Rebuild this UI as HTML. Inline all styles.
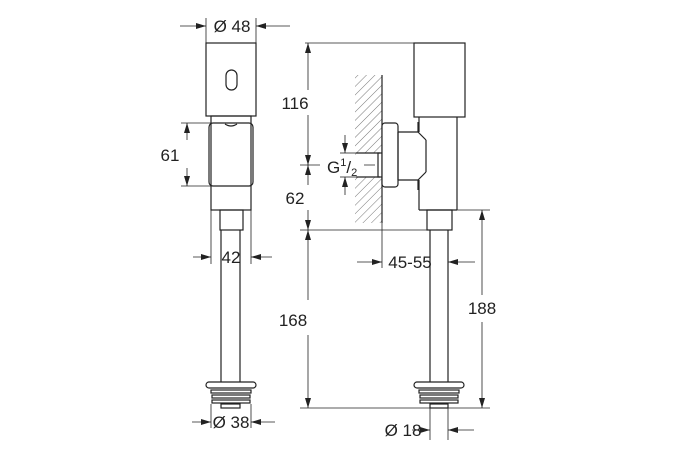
<!DOCTYPE html>
<html><head><style>body{margin:0;background:#fff}svg{display:block}text{font-family:"Liberation Sans",sans-serif;font-size:17px;fill:#222}</style></head>
<body>
<svg width="675" height="450" viewBox="0 0 675 450" xmlns="http://www.w3.org/2000/svg">
<defs>
<marker id="a" viewBox="0 0 10 6" refX="10" refY="3" markerWidth="10" markerHeight="6" orient="auto-start-reverse" markerUnits="userSpaceOnUse"><path d="M0,0L10,3L0,6z" fill="#222"/></marker>
<pattern id="h" width="6" height="6" patternUnits="userSpaceOnUse" patternTransform="rotate(45)"><line x1="0" y1="0" x2="0" y2="6" stroke="#555" stroke-width="0.8"/></pattern>
</defs>
<g stroke="#222" stroke-width="1.2" fill="none">
<rect x="206" y="43" width="50" height="73" fill="#fff"/>
<rect x="226" y="70" width="11" height="20" rx="5.5"/>
<rect x="211" y="116" width="40" height="94"/>
<rect x="209" y="123" width="44" height="63" rx="4"/>
<path d="M225,124 Q231,128 237,124" />
<rect x="220" y="210" width="23" height="20"/>
<line x1="221" y1="230" x2="221" y2="382"/><line x1="240" y1="230" x2="240" y2="382"/>
<rect x="206" y="382" width="50" height="6" rx="3"/>
<rect x="211" y="390" width="40" height="3"/><rect x="212" y="395" width="38" height="3"/><rect x="212" y="400" width="38" height="3"/>
<rect x="221" y="404" width="19" height="4"/>
<g stroke-width="0.8">
<line x1="206" y1="18" x2="206" y2="43"/><line x1="256" y1="18" x2="256" y2="43"/>
<line x1="180" y1="26" x2="206" y2="26" marker-end="url(#a)"/><line x1="290" y1="26" x2="256" y2="26" marker-end="url(#a)"/>
<line x1="181" y1="123" x2="250" y2="123"/><line x1="181" y1="186" x2="250" y2="186"/>
<line x1="187" y1="140" x2="187" y2="123" marker-end="url(#a)"/><line x1="187" y1="168" x2="187" y2="186" marker-end="url(#a)"/>
<line x1="211" y1="210" x2="211" y2="264"/><line x1="251" y1="210" x2="251" y2="264"/>
<line x1="193" y1="257" x2="211" y2="257" marker-end="url(#a)"/><line x1="272" y1="257" x2="251" y2="257" marker-end="url(#a)"/>
<line x1="211" y1="404" x2="211" y2="428"/><line x1="251" y1="404" x2="251" y2="428"/>
<line x1="192" y1="422" x2="211" y2="422" marker-end="url(#a)"/><line x1="275" y1="422" x2="251" y2="422" marker-end="url(#a)"/>
</g>
<rect x="355" y="75" width="27" height="148" fill="url(#h)" stroke="none"/>
<line x1="382" y1="75" x2="382" y2="223"/>
<rect x="356" y="153" width="26" height="24" fill="#fff" stroke="none"/>
<line x1="356" y1="153" x2="380" y2="153"/><line x1="356" y1="177" x2="380" y2="177"/><rect x="378" y="153" width="4" height="24"/>
<rect x="382" y="123" width="16" height="64" rx="3" fill="#fff"/>
<path d="M398,132 H418 V122 M398,180 H418 V190 M398,132 V180 M426,140 V172" />
<path d="M418,132 L426,140 M418,180 L426,172"/>
<rect x="414" y="43" width="51" height="74" fill="#fff"/>
<line x1="419" y1="117" x2="419" y2="132"/><line x1="419" y1="180" x2="419" y2="210"/>
<line x1="457" y1="117" x2="457" y2="210"/><line x1="419" y1="210" x2="457" y2="210"/>
<rect x="427" y="210" width="25" height="20"/>
<line x1="430" y1="230" x2="430" y2="382"/><line x1="448" y1="230" x2="448" y2="382"/>
<rect x="414" y="382" width="50" height="6" rx="3"/>
<rect x="419" y="390" width="40" height="3"/><rect x="420" y="395" width="38" height="3"/><rect x="420" y="400" width="38" height="3"/>
<rect x="430" y="404" width="18" height="4"/>
<g stroke-width="0.8">
<line x1="305" y1="43" x2="414" y2="43"/>
<line x1="308" y1="90" x2="308" y2="43" marker-end="url(#a)"/><line x1="308" y1="115" x2="308" y2="165" marker-end="url(#a)"/>
<line x1="300" y1="165" x2="375" y2="165"/>
<line x1="308" y1="185" x2="308" y2="165" marker-end="url(#a)"/><line x1="308" y1="210" x2="308" y2="230" marker-end="url(#a)"/>
<line x1="300" y1="230" x2="427" y2="230"/>
<line x1="308" y1="300" x2="308" y2="230" marker-end="url(#a)"/><line x1="308" y1="335" x2="308" y2="408" marker-end="url(#a)"/>
<line x1="300" y1="408" x2="490" y2="408"/>
<line x1="457" y1="210" x2="490" y2="210"/>
<line x1="482" y1="295" x2="482" y2="210" marker-end="url(#a)"/><line x1="482" y1="322" x2="482" y2="408" marker-end="url(#a)"/>
<line x1="345" y1="135" x2="345" y2="153" marker-end="url(#a)"/><line x1="345" y1="195" x2="345" y2="177" marker-end="url(#a)"/>
<line x1="340" y1="153" x2="356" y2="153"/><line x1="340" y1="177" x2="356" y2="177"/>
<line x1="382" y1="223" x2="382" y2="268"/><line x1="448" y1="382" x2="448" y2="268"/>
<line x1="357" y1="262" x2="382" y2="262" marker-end="url(#a)"/><line x1="475" y1="262" x2="448" y2="262" marker-end="url(#a)"/>
<line x1="430" y1="408" x2="430" y2="440"/><line x1="448" y1="408" x2="448" y2="440"/>
<line x1="412" y1="430" x2="430" y2="430" marker-end="url(#a)"/><line x1="474" y1="430" x2="448" y2="430" marker-end="url(#a)"/>
</g>
</g>
<g>
<rect x="209" y="16" width="46" height="19" fill="#fff"/>
<text x="232" y="32" text-anchor="middle">Ø 48</text>
<text x="170" y="161" text-anchor="middle">61</text>
<text x="231" y="263" text-anchor="middle">42</text>
<text x="231" y="428" text-anchor="middle">Ø 38</text>
<text x="295" y="109" text-anchor="middle">116</text>
<text x="295" y="204" text-anchor="middle">62</text>
<text x="293" y="326" text-anchor="middle">168</text>
<rect x="320" y="157" width="44" height="18" fill="#fff"/>
<text x="327" y="173">G<tspan font-size="11" dy="-7">1</tspan><tspan dy="7">/</tspan><tspan font-size="11" dy="3">2</tspan></text>
<text x="410" y="268" text-anchor="middle">45-55</text>
<text x="482" y="314" text-anchor="middle">188</text>
<text x="403" y="436" text-anchor="middle">Ø 18</text>
</g>
</svg>
</body></html>
